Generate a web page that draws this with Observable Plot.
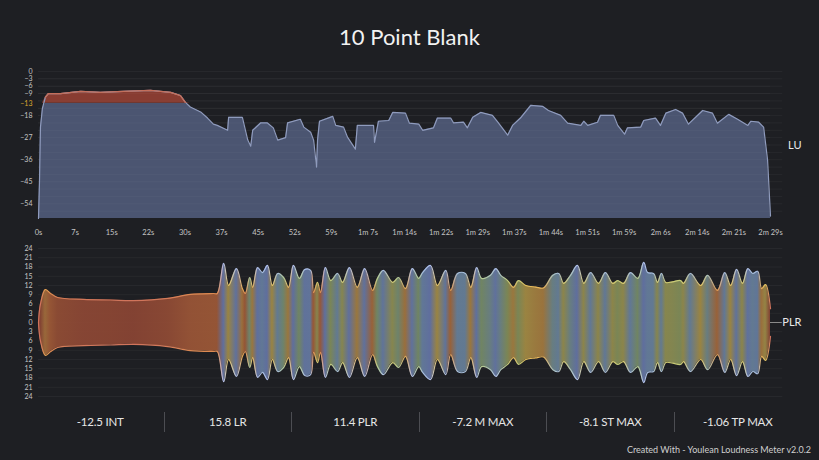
<!DOCTYPE html>
<html><head><meta charset="utf-8">
<script src="https://cdn.jsdelivr.net/npm/d3@7"></script>
<script src="https://cdn.jsdelivr.net/npm/@observablehq/plot@0.6"></script>
<style>
html,body{margin:0;padding:0;background:#1e1f23;}
#root{position:relative;width:819px;height:460px;overflow:hidden;background:#1e1f23;font-family:Lato,"Open Sans",sans-serif;color:#e8e8e8;}
#title{position:absolute;left:0;top:23px;width:819px;text-align:center;font-size:22px;line-height:28px;color:#f2f2f2;}
#top{position:absolute;left:0;top:62px;}
#bottom{position:absolute;left:0;top:242px;}
#stats{position:absolute;left:37px;top:412px;width:764px;height:20px;display:flex;}
#stats div{flex:1;text-align:center;font-size:11.5px;line-height:20px;border-left:1px solid #4c4d52;color:#e6e6e6;letter-spacing:-0.2px;}
#stats div:first-child{border-left:none;}
#footer{position:absolute;right:8px;top:444px;font-size:9px;color:#d0d0d0;}
</style></head>
<body>
<div id="root">
  <div id="title"></div>
  <div id="top"></div>
  <div id="bottom"></div>
  <div id="stats"></div>
  <div id="footer"></div>
</div>
<script>
// ---------- DATA ----------
const title = "10 Point Blank";
const footerText = "Created With - Youlean Loudness Meter v2.0.2";
const statLabels = ["-12.5 INT", "15.8 LR", "11.4 PLR", "-7.2 M MAX", "-8.1 ST MAX", "-1.06 TP MAX"];

const luYTicks = [0, -3, -6, -9, -13, -18, -27, -36, -45, -54];
const xTickTimes = [0, 7.45, 14.9, 22.35, 29.8, 37.25, 44.7, 52.15, 59.6, 67.05, 74.5, 81.95, 89.4, 96.85, 104.3, 111.75, 119.2, 126.65, 134.1, 141.55, 149];
const xTickLabels = ["0s","7s","15s","22s","30s","37s","45s","52s","59s","1m 7s","1m 14s","1m 22s","1m 29s","1m 37s","1m 44s","1m 51s","1m 59s","2m 6s","2m 14s","2m 21s","2m 29s"];
const plrYTicks = [-24,-21,-18,-15,-12,-9,-6,-3,0,3,6,9,12,15,18,21,24];

const luTime = [0,0.2,0.4,0.8,1.4,2.0,4.5,8.6,12.6,17.3,22.8,26.9,28.9,29.9,30.9,33.0,34.4,35.6,36.4,38.5,38.7,41.5,42.6,43.2,43.6,45.2,46.6,47.8,48.7,50.3,50.7,53.3,54.0,55.4,56.0,56.6,56.8,57.2,59.9,60.5,62.1,62.9,64.5,64.9,68.2,68.4,69.2,71.3,72.1,74.7,75.5,77.4,78.2,80.4,81.2,83.9,84.5,86.5,87.3,88.4,90.0,92.4,93.5,95.5,96.5,98.1,100.2,102.6,103.8,106.3,107.7,110.4,111.0,111.8,113.8,114.4,117.1,117.9,119.3,119.9,122.6,123.2,125.6,126.6,127.7,129.7,131.1,132.3,135.2,137.2,138.2,140.5,142.3,144.4,145.0,146.6,147.6,148.4,149.0];
const luValue = [-60,-45,-22.7,-15,-10.5,-9,-9,-8.1,-8.5,-8.1,-7.7,-8.5,-9.8,-12.6,-14.5,-16.5,-19,-21.5,-22,-24,-18.7,-18.7,-28,-30.5,-24,-21,-21,-23,-28,-27,-21,-19.5,-22.7,-24.8,-28,-39,-28,-20.3,-18.3,-22,-22.7,-26.8,-31.7,-22,-22,-28.9,-20.3,-20,-16.7,-17,-21.1,-21.5,-24,-23,-19,-19,-21,-20.7,-23,-18.7,-16.7,-17.9,-20.7,-26,-22,-19,-13.8,-14.2,-15.9,-17.9,-21.1,-22,-20.3,-22,-20.7,-17.9,-17.9,-22,-25.6,-23,-22.7,-20,-19,-22,-17,-15.5,-17,-21.5,-15.9,-17,-21.1,-17.5,-19.5,-22,-20.3,-20.7,-22.7,-36,-59];

const plrTime = [0,0.4,1.4,2.4,3.9,9.2,14.7,19.3,26.3,30.9,35.6,36.4,37.7,38.7,40.3,41.5,42.1,43.0,43.6,44.6,45.6,46.6,47.6,48.7,49.9,50.9,51.9,53.1,54.2,55.4,56.0,56.8,57.4,58.4,59.5,60.9,61.9,63.3,64.9,66.4,68.0,69.0,70.2,72.1,73.3,74.7,76.1,77.4,78.2,79.8,81.2,82.9,83.9,85.3,86.9,88.0,89.2,90.2,92.0,93.1,94.1,95.5,96.7,97.7,99.2,101.2,102.8,104.7,105.9,106.9,108.3,109.7,111.0,112.4,114.0,115.4,116.9,117.9,119.1,120.5,122.0,123.2,124.0,125.2,126.0,126.8,127.7,129.1,130.7,131.3,132.7,134.8,136.2,138.2,139.7,140.9,142.1,143.3,144.4,145.4,146.4,147.2,148.0,149.0];
const plrValue = [0,6,10.7,9.5,8.1,7.5,7.3,7.1,7.8,9.1,9.4,9.4,19.2,12,17.5,11,9.4,14.6,11.4,17.8,16.2,18.5,12,15.9,14.6,11.4,18.5,14.3,17.2,16.9,9.7,13,9.7,17.8,13.6,15.9,13,17.8,11.4,17.5,10.4,14.3,16.9,13,14.6,11,17.5,14.3,16.2,18.5,12,16.9,10.4,15.9,15.9,11.4,17.8,14.3,15.3,17.5,15.3,13.6,11.4,13.6,12,11.5,11.2,15.3,15.9,12.7,15.3,18.5,12.7,16.2,12.7,16.2,12.7,13.6,12.7,16.2,14.3,19.5,16.2,15.9,13,15.9,13,13.2,13.6,12.7,15.9,12,15.3,10.4,16.2,12,17.2,12.7,17.5,15.9,16.6,11,12.3,4.5];

// PLR colour stops (value -> colour)
const plrColorDomain = [7, 10, 12, 14, 16, 18];
const plrFillRange   = ["#8a4434", "#a35e38", "#a48c44", "#7a8f5f", "#67809e", "#6575a8"];
const plrStrokeRange = ["#cf735c", "#e0914f", "#e6c25e", "#b9cf82", "#a3badb", "#b3c2ef"];

// ---------- LAYOUT ----------
document.getElementById("title").textContent = title;
document.getElementById("footer").textContent = footerText;
const statsEl = document.getElementById("stats");
statLabels.forEach(s => { const d = document.createElement("div"); d.textContent = s; statsEl.appendChild(d); });

const lu = luTime.map((t, i) => ({t, v: luValue[i]}));
const plr = plrTime.map((t, i) => ({t, v: plrValue[i]}));
const font = "Lato, 'Open Sans', sans-serif";

const topChart = Plot.plot({
  width: 819, height: 180,
  marginLeft: 38, marginRight: 49, marginTop: 9, marginBottom: 24,
  style: {background: "transparent", fontFamily: font, fontSize: "8px", color: "#c4c4c4", overflow: "visible"},
  x: {domain: [0, 149], axis: null},
  y: {domain: [-60, 0], axis: null},
  marks: [
    Plot.ruleY(d3.range(0, -60, -3), {x1: 0, x2: 151.5, stroke: "#ffffff", strokeOpacity: 0.045}),
    Plot.areaY(lu, {x: "t", y1: -60, y2: d => Math.min(d.v, -13), fill: "#4b5571"}),
    Plot.areaY(lu, {x: "t", y1: -13, y2: d => Math.max(d.v, -13), fill: "#883c31"}),
    Plot.ruleY(d3.range(-3, -60, -3), {x1: 0, x2: 149, stroke: "#ffffff", strokeOpacity: 0.03}),
    Plot.lineY(lu, {x: "t", y: "v", stroke: "#8f9bbd", strokeWidth: 1.2}),
    Plot.lineY(lu.filter(d => d.v >= -13), {x: "t", y: "v", stroke: "#c46f5b", strokeWidth: 1.3}),
    Plot.axisY(luYTicks.filter(d => d !== -13), {tickSize: 0, tickPadding: 6, fill: "#c4c4c4", fontSize: 7, label: null}),
    Plot.axisY([-13], {tickSize: 0, tickPadding: 6, fill: "#d9a52e", fontSize: 7, label: null}),
    Plot.axisX(xTickTimes, {tickSize: 0, tickPadding: 11, fill: "#c4c4c4", fontSize: 7.5, label: null,
      tickFormat: d => xTickLabels[xTickTimes.indexOf(d)]}),
    Plot.text(["LU"], {frameAnchor: "right", dx: 31, text: d => d, fontSize: 11, fill: "#e8e8e8"})
  ]
});
document.getElementById("top").appendChild(topChart);

const bottomChart = Plot.plot({
  width: 819, height: 160,
  marginLeft: 38, marginRight: 49, marginTop: 6, marginBottom: 6,
  style: {background: "transparent", fontFamily: font, fontSize: "8px", color: "#c4c4c4", overflow: "visible"},
  x: {domain: [0, 149], axis: null},
  y: {domain: [-24, 24], axis: null},
  marks: [
    Plot.ruleY(plrYTicks, {x1: 0, x2: 151.5, stroke: "#ffffff", strokeOpacity: 0.045}),
    Plot.areaY(plr, {x: "t", y1: d => -d.v, y2: "v", curve: "catmull-rom", fill: "url(#plrFill)", fillOpacity: 0.92}),
    Plot.lineY(plr, {x: "t", y: "v", curve: "catmull-rom", stroke: "url(#plrStroke)", strokeWidth: 1.2}),
    Plot.lineY(plr, {x: "t", y: d => -d.v, curve: "catmull-rom", stroke: "url(#plrStroke)", strokeWidth: 1.2}),
    Plot.axisY(plrYTicks, {tickSize: 0, tickPadding: 6, fill: "#c4c4c4", fontSize: 7, label: null, tickFormat: d => Math.abs(d)}),
    Plot.ruleY([0], {x1: 149, x2: 151.4, stroke: "#8a8a8a"}),
    Plot.text(["PLR"], {frameAnchor: "right", dx: 31, text: d => d, fontSize: 11, fill: "#e8e8e8"})
  ]
});
document.getElementById("bottom").appendChild(bottomChart);

// gradients along x built from the PLR series via Plot scales
(function () {
  const ns = "http://www.w3.org/2000/svg";
  const svg = bottomChart.tagName.toLowerCase() === "svg" ? bottomChart : bottomChart.querySelector("svg");
  const xs = bottomChart.scale("x");
  const x1 = xs.apply(0), x2 = xs.apply(149);
  const defs = document.createElementNS(ns, "defs");
  function grad(id, range) {
    const c = Plot.scale({color: {type: "linear", domain: plrColorDomain, range, interpolate: "rgb", clamp: true}});
    const g = document.createElementNS(ns, "linearGradient");
    g.setAttribute("id", id);
    g.setAttribute("gradientUnits", "userSpaceOnUse");
    g.setAttribute("x1", x1); g.setAttribute("x2", x2);
    g.setAttribute("y1", 0); g.setAttribute("y2", 0);
    plr.forEach(d => {
      const s = document.createElementNS(ns, "stop");
      s.setAttribute("offset", ((xs.apply(d.t) - x1) / (x2 - x1)).toFixed(4));
      s.setAttribute("stop-color", c.apply(Math.max(d.v, 7)));
      g.appendChild(s);
    });
    defs.appendChild(g);
  }
  grad("plrFill", plrFillRange);
  grad("plrStroke", plrStrokeRange);
  svg.insertBefore(defs, svg.firstChild);
})();
</script>
</body></html>
